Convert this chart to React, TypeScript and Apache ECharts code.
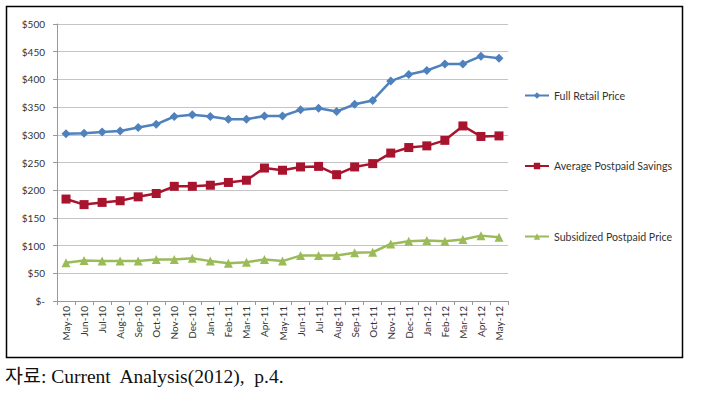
import React, { useEffect, useRef } from "react";
import * as echarts from "echarts";

const categories = [
  "May-10", "Jun-10", "Jul-10", "Aug-10", "Sep-10", "Oct-10", "Nov-10", "Dec-10",
  "Jan-11", "Feb-11", "Mar-11", "Apr-11", "May-11", "Jun-11", "Jul-11", "Aug-11",
  "Sep-11", "Oct-11", "Nov-11", "Dec-11", "Jan-12", "Feb-12", "Mar-12", "Apr-12", "May-12",
];
const fullRetailPrice = [302, 303, 305, 307, 313, 319, 333, 336, 333, 328, 328, 334, 334, 345, 348, 342, 355, 362, 397, 409, 416, 428, 428, 442, 438];
const averagePostpaidSavings = [184, 174, 178, 181, 188, 194, 207, 207, 209, 214, 218, 240, 236, 242, 243, 228, 242, 248, 267, 277, 280, 290, 316, 297, 298];
const subsidizedPostpaidPrice = [69, 73, 72, 72, 72, 75, 75, 77, 72, 68, 70, 75, 72, 82, 82, 82, 87, 88, 103, 108, 109, 108, 111, 118, 115];
const seriesNames = ["Full Retail Price", "Average Postpaid Savings", "Subsidized Postpaid Price"];
const caption = "자료: Current  Analysis(2012),  p.4.";

export default function App() {
  const ref = useRef<HTMLDivElement>(null);
  useEffect(() => {
    document.body.style.margin = "0";
    if (!ref.current) return;
    const chart = echarts.init(ref.current, null, { renderer: "svg" });
    const labelFont = "Lato, 'Open Sans', sans-serif";
    const mk = (name: string, data: number[], color: string, symbol: string, size: number) => ({
      name,
      type: "line",
      data,
      symbol,
      symbolSize: size,
      showAllSymbol: true,
      lineStyle: { color, width: 2.5 },
      itemStyle: { color },
    });
    chart.setOption({
      animation: false,
      backgroundColor: "#ffffff",
      grid: { left: 57, right: 195, top: 24, bottom: 100, containLabel: false },
      xAxis: {
        type: "category",
        data: categories,
        boundaryGap: true,
        axisLine: { lineStyle: { color: "#999999", width: 1 } },
        axisTick: { show: true, length: 4, lineStyle: { color: "#999999" } },
        axisLabel: { rotate: 90, fontSize: 10, color: "#333333", margin: 5, fontFamily: labelFont, interval: 0 },
      },
      yAxis: {
        type: "value",
        min: 0,
        max: 500,
        interval: 50,
        axisLine: { show: true, lineStyle: { color: "#999999", width: 1 } },
        axisTick: { show: true, length: 4, lineStyle: { color: "#999999" } },
        splitLine: { lineStyle: { color: "#c4c4c4", width: 1 } },
        axisLabel: {
          fontSize: 10,
          color: "#333333",
          margin: 12,
          fontFamily: labelFont,
          formatter: (v: number) => (v === 0 ? "$-" : "$" + v),
        },
      },
      legend: {
        orient: "vertical",
        left: 519,
        top: 85,
        itemGap: 59.5,
        itemWidth: 24,
        itemHeight: 8,
        textStyle: { fontSize: 10.6, color: "#333333", fontFamily: labelFont },
        data: seriesNames,
      },
      series: [
        mk(seriesNames[0], fullRetailPrice, "#4f81bd", "diamond", 9),
        mk(seriesNames[1], averagePostpaidSavings, "#a8132e", "rect", 9),
        mk(seriesNames[2], subsidizedPostpaidPrice, "#9bbb59", "triangle", 9),
      ],
      graphic: [
        {
          type: "rect",
          shape: { x: 6.5, y: 6.5, width: 676, height: 351 },
          style: { fill: "none", stroke: "#000000", lineWidth: 1.5 },
          silent: true,
        },
        {
          type: "text",
          x: 5,
          y: 367,
          style: {
            text: caption,
            font: "19.5px 'Liberation Serif', 'Noto Sans CJK KR', serif",
            fill: "#111111",
          },
        },
      ],
    });
    return () => chart.dispose();
  }, []);
  return <div ref={ref} style={{ width: 703, height: 401 }} />;
}
